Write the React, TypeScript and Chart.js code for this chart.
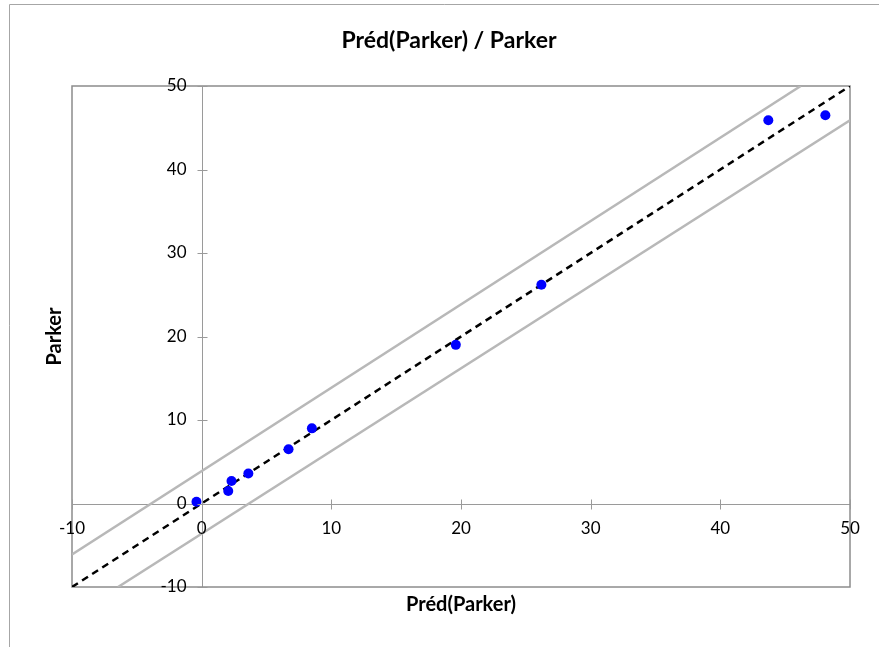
import React, { useEffect, useRef } from "react";
import { Chart, registerables } from "chart.js";

Chart.register(...registerables);

const predParker = [-0.4, 2.05, 2.3, 3.6, 6.7, 8.5, 19.6, 26.2, 43.7, 48.1];
const parker = [0.2, 1.5, 2.7, 3.6, 6.5, 9.0, 19.0, 26.2, 45.9, 46.5];

const identityX = [-10, 50];
const identityY = [-10, 50];
const upperX = [-10, 46.2];
const upperY = [-6.1, 50];
const lowerX = [-6.45, 50];
const lowerY = [-10, 45.9];

const xTicks = [-10, 0, 10, 20, 30, 40, 50];
const yTicks = [-10, 0, 10, 20, 30, 40, 50];

const titleText = "Préd(Parker) / Parker";
const xTitle = "Préd(Parker)";
const yTitle = "Parker";

const FONT = "Lato, 'Open Sans', sans-serif";

const toPts = (xs: number[], ys: number[]) => xs.map((x, i) => ({ x, y: ys[i] }));

const decor = {
  id: "decor",
  beforeDatasetsDraw(chart: any) {
    const { ctx, chartArea: a, scales } = chart;
    const xs = scales.x;
    const ys = scales.y;
    ctx.save();
    ctx.strokeStyle = "#a6a6a6";
    ctx.lineWidth = 1;
    ctx.beginPath();
    ctx.moveTo(9.5, 647);
    ctx.lineTo(9.5, 4.5);
    ctx.lineTo(879, 4.5);
    ctx.stroke();
    const x0 = Math.round(xs.getPixelForValue(0)) + 0.5;
    const y0 = Math.round(ys.getPixelForValue(0)) + 0.5;
    ctx.strokeStyle = "#9a9a9a";
    ctx.lineWidth = 1;
    ctx.beginPath();
    ctx.moveTo(x0, a.top);
    ctx.lineTo(x0, a.bottom);
    ctx.moveTo(a.left, y0);
    ctx.lineTo(a.right, y0);
    ctx.stroke();
    ctx.strokeStyle = "#8c8c8c";
    ctx.lineWidth = 1.5;
    ctx.strokeRect(a.left, a.top, a.right - a.left, a.bottom - a.top);
    ctx.restore();
  },
  afterDraw(chart: any) {
    const { ctx, chartArea: a, scales } = chart;
    const xs = scales.x;
    const ys = scales.y;
    const x0 = Math.round(xs.getPixelForValue(0)) + 0.5;
    const y0 = Math.round(ys.getPixelForValue(0)) + 0.5;
    ctx.save();
    ctx.strokeStyle = "#9a9a9a";
    ctx.lineWidth = 1;
    ctx.beginPath();
    xTicks.forEach((t) => {
      const px = Math.round(xs.getPixelForValue(t)) + 0.5;
      ctx.moveTo(px, y0 - 5);
      ctx.lineTo(px, y0 + 5);
    });
    yTicks.forEach((t) => {
      const py = Math.round(ys.getPixelForValue(t)) + 0.5;
      ctx.moveTo(x0 - 5, py);
      ctx.lineTo(x0 + 5, py);
    });
    ctx.stroke();
    ctx.fillStyle = "#000";
    ctx.font = `17px ${FONT}`;
    ctx.textBaseline = "middle";
    ctx.textAlign = "center";
    xTicks.forEach((t) => {
      ctx.fillText(String(t), xs.getPixelForValue(t), y0 + 24);
    });
    ctx.textAlign = "right";
    yTicks.forEach((t) => {
      ctx.fillText(String(t), x0 - 16, ys.getPixelForValue(t));
    });
    ctx.font = `bold 23px ${FONT}`;
    ctx.textAlign = "center";
    ctx.fillText(titleText, 449, 41);
    ctx.font = `bold 20px ${FONT}`;
    ctx.fillText(xTitle, (a.left + a.right) / 2, 605);
    ctx.translate(55, (a.top + a.bottom) / 2);
    ctx.rotate(-Math.PI / 2);
    ctx.fillText(yTitle, 0, 0);
    ctx.restore();
  },
};

export default function App() {
  const ref = useRef<HTMLCanvasElement | null>(null);
  useEffect(() => {
    if (!ref.current) return;
    const chart = new Chart(ref.current, {
      type: "scatter",
      data: {
        datasets: [
          {
            label: "Parker",
            data: toPts(predParker, parker),
            backgroundColor: "#0000ff",
            borderColor: "#0000ff",
            pointRadius: 5,
            pointBorderWidth: 0,
            order: 0,
          },
          {
            label: "y=x",
            data: toPts(identityX, identityY),
            showLine: true,
            borderColor: "#000",
            borderWidth: 2.5,
            borderDash: [7, 5],
            pointRadius: 0,
            order: 1,
          },
          {
            label: "upper",
            data: toPts(upperX, upperY),
            showLine: true,
            borderColor: "#b8b8b8",
            borderWidth: 2.5,
            pointRadius: 0,
            order: 2,
          },
          {
            label: "lower",
            data: toPts(lowerX, lowerY),
            showLine: true,
            borderColor: "#b8b8b8",
            borderWidth: 2.5,
            pointRadius: 0,
            order: 2,
          },
        ],
      },
      options: {
        responsive: false,
        animation: false,
        layout: { padding: { left: 72, right: 29, top: 86, bottom: 60 } },
        plugins: { legend: { display: false }, tooltip: { enabled: false }, title: { display: false } },
        scales: {
          x: { type: "linear", min: -10, max: 50, display: false },
          y: { type: "linear", min: -10, max: 50, display: false },
        },
      },
      plugins: [decor],
    });
    return () => chart.destroy();
  }, []);
  return (
    <div style={{ position: "absolute", left: 0, top: 0, width: 879, height: 647, background: "#fff" }}>
      <canvas ref={ref} width={879} height={647} style={{ width: 879, height: 647, display: "block" }} />
    </div>
  );
}
